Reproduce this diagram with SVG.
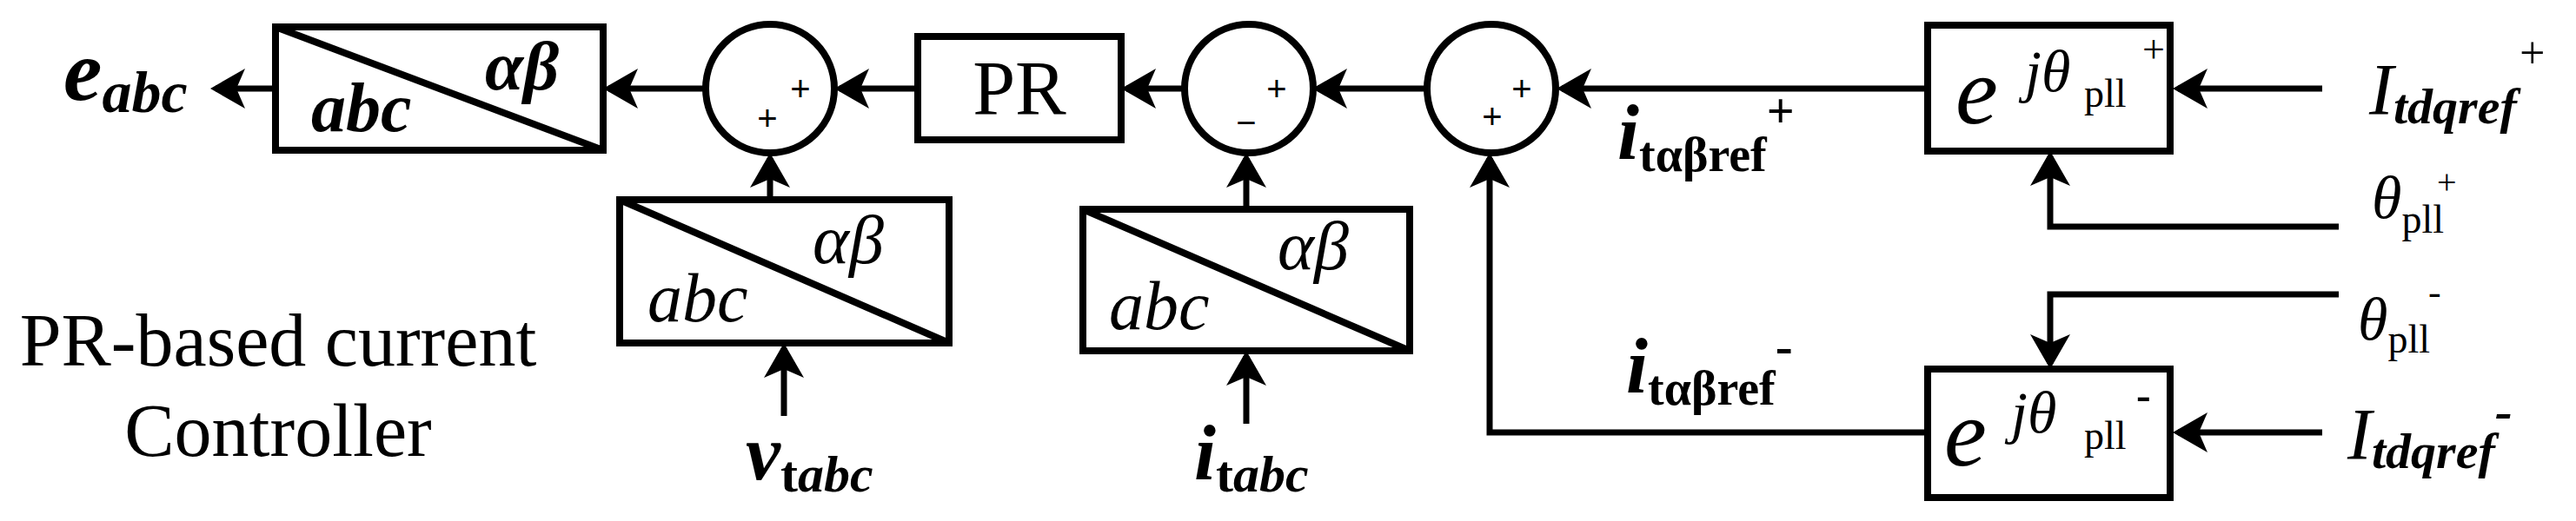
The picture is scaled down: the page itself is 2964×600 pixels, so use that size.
<svg xmlns="http://www.w3.org/2000/svg" width="2964" height="600" viewBox="0 0 2964 600">
<style>
.b{fill:none;stroke:#000;stroke-width:8}
.l{fill:none;stroke:#000;stroke-width:7;marker-end:url(#ah)}
.p{fill:none;stroke:#000;stroke-width:7}
text{font-family:"Liberation Serif","Times New Roman",serif;fill:#000}
.bi{font-weight:bold;font-style:italic}
.i{font-style:italic}
.bo{font-weight:bold}
.sg{font-family:"Liberation Sans",Arial,sans-serif;font-size:40px}
</style>
<defs>
<marker id="ah" markerUnits="userSpaceOnUse" markerWidth="44" markerHeight="46" viewBox="0 0 40 46" refX="34" refY="23" orient="auto">
<path d="M0,0 L40,23 L0,46 L10,23 Z" fill="#000"/>
</marker>
</defs>
<g id="connectors">
<line class="l" x1="317" y1="102" x2="248" y2="102"/>
<line class="l" x1="812" y1="102" x2="700" y2="102"/>
<line class="l" x1="1056" y1="102" x2="966" y2="102"/>
<line class="l" x1="1363" y1="102" x2="1296" y2="102"/>
<line class="l" x1="1641" y1="102" x2="1516" y2="102"/>
<line class="l" x1="2218" y1="102" x2="1797" y2="102"/>
<line class="l" x1="2672" y1="102" x2="2506" y2="102"/>
<line class="l" x1="2672" y1="498" x2="2506" y2="498"/>
<line class="l" x1="886" y1="230" x2="886" y2="182"/>
<line class="l" x1="902" y1="479" x2="902" y2="401"/>
<line class="l" x1="1434" y1="241" x2="1434" y2="182"/>
<line class="l" x1="1434" y1="488" x2="1434" y2="410"/>
<polyline class="l" points="2218,498 1714,498 1714,182"/>
<polyline class="l" points="2691,261 2359,261 2359,180"/>
<polyline class="l" points="2691,339 2359,339 2359,419"/>
</g>
<g id="eabc"><text x="73" y="115" class="bi" font-size="100">e<tspan font-size="68" dy="14">abc</tspan></text></g>
<g id="conv1">
<rect class="b" x="317" y="31" width="377" height="142"/>
<line class="b" x1="317" y1="31" x2="694" y2="173"/>
<text x="558" y="103" class="bi" font-size="80">αβ</text>
<text x="358" y="151" class="bi" font-size="80">abc</text>
</g>
<g id="sum1">
<circle class="b" cx="886" cy="102" r="74"/>
<text x="921" y="116" class="sg" text-anchor="middle">+</text>
<text x="883" y="150" class="sg" text-anchor="middle">+</text>
</g>
<g id="conv2">
<rect class="b" x="713" y="230" width="379" height="165"/>
<line class="b" x1="713" y1="230" x2="1092" y2="395"/>
<text x="935" y="303" class="i" font-size="80">αβ</text>
<text x="745" y="370" class="i" font-size="80">abc</text>
</g>
<g id="vtabc"><text x="858" y="552" class="bi" font-size="90">v<tspan class="bo" font-style="normal" font-size="60" dy="14">t</tspan><tspan font-size="60">abc</tspan></text></g>
<g id="title">
<text x="320" y="421" font-size="86" text-anchor="middle">PR-based current</text>
<text x="320" y="525" font-size="86" text-anchor="middle">Controller</text>
</g>
<g id="pr">
<rect class="b" x="1056" y="42" width="234" height="119"/>
<text x="1173" y="131" font-size="88" text-anchor="middle">PR</text>
</g>
<g id="sum2">
<circle class="b" cx="1437" cy="102" r="74"/>
<text x="1469" y="116" class="sg" text-anchor="middle">+</text>
<text x="1434" y="155" class="sg" text-anchor="middle">−</text>
</g>
<g id="conv3">
<rect class="b" x="1246" y="241" width="376" height="163"/>
<line class="b" x1="1246" y1="241" x2="1622" y2="404"/>
<text x="1470" y="310" class="i" font-size="80">αβ</text>
<text x="1276" y="379" class="i" font-size="80">abc</text>
</g>
<g id="itabc"><text x="1374" y="552" class="bi" font-size="90">i<tspan class="bo" font-style="normal" font-size="60" dy="14">t</tspan><tspan font-size="60">abc</tspan></text></g>
<g id="sum3">
<circle class="b" cx="1716" cy="102" r="74"/>
<text x="1751" y="116" class="sg" text-anchor="middle">+</text>
<text x="1717" y="148" class="sg" text-anchor="middle">+</text>
</g>
<g id="irefp"><text x="1861" y="183" class="bi" font-size="90">i<tspan class="bo" font-style="normal" font-size="56" dy="14">tαβref</tspan><tspan class="bo" font-style="normal" font-size="56" dy="-50">+</tspan></text></g>
<g id="irefm"><text x="1871" y="452" class="bi" font-size="90">i<tspan class="bo" font-style="normal" font-size="56" dy="14">tαβref</tspan><tspan class="bo" font-style="normal" font-size="60" dy="-48">-</tspan></text></g>
<g id="rotp">
<rect class="b" x="2218" y="29" width="279" height="145"/>
<text x="2250" y="142" class="i" font-size="110">e</text>
<text x="2330" y="105" class="i" font-size="68">jθ</text>
<text x="2398" y="123" font-size="46">pll</text>
<text x="2465" y="72" font-size="46">+</text>
</g>
<g id="rotm">
<rect class="b" x="2218" y="425" width="279" height="148"/>
<text x="2237" y="536" class="i" font-size="110">e</text>
<text x="2314" y="498" class="i" font-size="68">jθ</text>
<text x="2398" y="517" font-size="46">pll</text>
<text x="2458" y="472" class="bo" font-size="50">-</text>
</g>
<g id="Itdqp"><text x="2726" y="132" class="i" font-size="84">I<tspan class="bo" font-size="58" dy="10">t<tspan font-style="italic">dq</tspan>ref</tspan><tspan font-size="52" dy="-64">+</tspan></text></g>
<g id="Itdqm"><text x="2701" y="529" class="i" font-size="84">I<tspan class="bo" font-size="58" dy="10">t<tspan font-style="italic">dq</tspan>ref</tspan><tspan class="bo" font-size="60" dy="-46">-</tspan></text></g>
<g id="thp"><text x="2729" y="251" class="i" font-size="70">θ<tspan font-style="normal" font-size="46" dy="17">pll</tspan><tspan font-style="normal" font-size="40" dx="-8" dy="-45">+</tspan></text></g>
<g id="thm"><text x="2713" y="391" class="i" font-size="70">θ<tspan font-style="normal" font-size="46" dy="15">pll</tspan><tspan font-style="normal" font-size="44" dx="-2" dy="-55">-</tspan></text></g>
</svg>
